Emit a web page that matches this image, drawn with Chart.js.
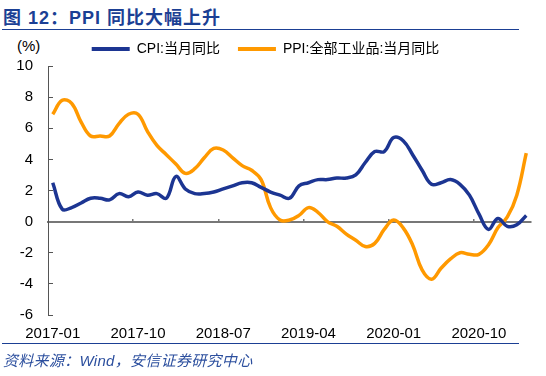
<!DOCTYPE html>
<html>
<head>
<meta charset="utf-8">
<script src="https://cdn.jsdelivr.net/npm/chart.js@4.4.0/dist/chart.umd.min.js"></script>
<style>
body { margin: 0; width: 546px; height: 376px; background: #fff; position: relative; overflow: hidden;
  font-family: "Liberation Sans", "Noto Sans CJK SC", sans-serif; }
#title { position: absolute; left: 3px; top: 3px; font-size: 18px; font-weight: bold; color: #1b3f94;
  letter-spacing: 1px; white-space: nowrap; }
.rule { position: absolute; left: 2px; width: 517px; border-top: 1.5px solid #1b3f94; }
#unit { position: absolute; left: 17px; top: 37px; font-size: 15px; color: #000; }
#wrap { position: absolute; left: 0; top: 22px; width: 546px; height: 324px; }
#src { position: absolute; left: 3px; top: 349px; font-size: 15px; font-style: italic; color: #2c4f9e;
  letter-spacing: 0.3px; white-space: nowrap; }
</style>
</head>
<body>
<div id="title">图 12：PPI 同比大幅上升</div>
<div class="rule" style="top:29px"></div>
<div id="unit">(%)</div>
<div id="wrap"><canvas id="chart"></canvas></div>
<div class="rule" style="top:343px"></div>
<div id="src">资料来源：Wind，安信证券研究中心</div>
<script>
var months = [
	'2017-01','2017-02','2017-03','2017-04','2017-05','2017-06','2017-07','2017-08','2017-09','2017-10','2017-11','2017-12',
	'2018-01','2018-02','2018-03','2018-04','2018-05','2018-06','2018-07','2018-08','2018-09','2018-10','2018-11','2018-12',
	'2019-01','2019-02','2019-03','2019-04','2019-05','2019-06','2019-07','2019-08','2019-09','2019-10','2019-11','2019-12',
	'2020-01','2020-02','2020-03','2020-04','2020-05','2020-06','2020-07','2020-08','2020-09','2020-10','2020-11','2020-12',
	'2021-01','2021-02','2021-03'
];
var cpi = [
	2.5, 0.8, 0.9, 1.2, 1.5, 1.5, 1.4, 1.8, 1.6, 1.9, 1.7, 1.8,
	1.5, 2.9, 2.1, 1.8, 1.8, 1.9, 2.1, 2.3, 2.5, 2.5, 2.2, 1.9,
	1.7, 1.5, 2.3, 2.5, 2.7, 2.7, 2.8, 2.8, 3.0, 3.8, 4.5, 4.5,
	5.4, 5.2, 4.3, 3.3, 2.4, 2.5, 2.7, 2.4, 1.7, 0.5, -0.5, 0.2,
	-0.3, -0.2, 0.4
];
var ppi = [
	6.9, 7.8, 7.6, 6.4, 5.5, 5.5, 5.5, 6.3, 6.9, 6.9, 5.8, 4.9,
	4.3, 3.7, 3.1, 3.4, 4.1, 4.7, 4.6, 4.1, 3.6, 3.3, 2.7, 0.9,
	0.1, 0.1, 0.4, 0.9, 0.6, 0.0, -0.3, -0.8, -1.2, -1.6, -1.4, -0.5,
	0.1, -0.4, -1.5, -3.1, -3.7, -3.0, -2.4, -2.0, -2.1, -2.1, -1.5, -0.4,
	0.3, 1.7, 4.4
];
var seriesNames = ['CPI:当月同比', 'PPI:全部工业品:当月同比'];
var yTicks = [-6, -4, -2, 0, 2, 4, 6, 8, 10];
var labelEvery = 9;

var blue = '#1c3592';
var orange = '#ff9900';
var axisGray = '#777777';
var fontFamily = '"Liberation Sans", "Noto Sans CJK SC", sans-serif';

function lineSet(name, data, color) {
	return {
		label: name,
		data: data,
		borderColor: color,
		backgroundColor: color,
		borderWidth: 3.5,
		pointRadius: 0,
		tension: 0.4,
		fill: false
	};
}

var ctx = document.getElementById('chart').getContext('2d');
new Chart(ctx, {
	type: 'line',
	data: {
		labels: months,
		datasets: [
			lineSet(seriesNames[0], cpi, blue),
			lineSet(seriesNames[1], ppi, orange)
		]
	},
	options: {
		responsive: true,
		maintainAspectRatio: false,
		animation: false,
		layout: { padding: { top: 2, right: 15, left: 0, bottom: 0 } },
		plugins: {
			tooltip: { enabled: false },
			legend: {
				labels: {
					boxWidth: 38,
					boxHeight: 4,
					padding: 18,
					color: '#000',
					font: { family: fontFamily, size: 14 },
					generateLabels: function(chart) {
						var items = Chart.defaults.plugins.legend.labels.generateLabels(chart);
						items.forEach(function(it) {
							it.lineWidth = 0;
							it.fillStyle = it.strokeStyle;
						});
						return items;
					}
				}
			}
		},
		scales: {
			x: {
				offset: true,
				grid: { display: false, drawTicks: false },
				border: { display: false },
				ticks: {
					autoSkip: false,
					maxRotation: 0,
					padding: 10,
					color: '#000',
					font: { family: fontFamily, size: 15 },
					callback: function(v, i) {
						return i % labelEvery === 0 ? months[i] : '';
					}
				},
				afterFit: function(scale) { scale.height = 31; }
			},
			x0: {
				type: 'category',
				position: { y: 0 },
				offset: true,
				ticks: { display: false, autoSkip: false },
				grid: {
					offset: true,
					drawOnChartArea: false,
					tickLength: -4,
					lineWidth: 1.5,
					color: function(c) {
						return (c.index > 0 && c.index % labelEvery === 0) ? axisGray : 'rgba(0,0,0,0)';
					}
				},
				border: { color: axisGray, width: 2 }
			},
			y: {
				min: yTicks[0],
				max: yTicks[yTicks.length - 1],
				afterBuildTicks: function(scale) {
					scale.ticks = yTicks.map(function(v) { return { value: v }; });
				},
				grid: { drawOnChartArea: false, tickLength: -5, color: '#555' },
				border: { color: '#555', width: 1 },
				ticks: {
					padding: 20,
					color: '#000',
					font: { family: fontFamily, size: 15 }
				},
				afterFit: function(scale) { scale.width = 48; }
			}
		}
	}
});
</script>
</body>
</html>
